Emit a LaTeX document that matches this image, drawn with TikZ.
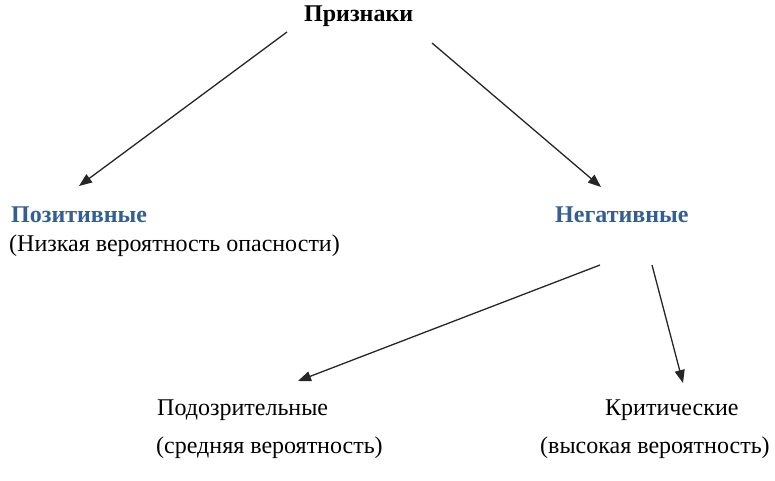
\documentclass[tikz,border=0pt]{standalone}
\usepackage{fontspec}
\setmainfont{Liberation Serif}
\usetikzlibrary{arrows.meta}
\definecolor{headblue}{HTML}{365F91}
\tikzset{
  txt/.style={inner sep=0pt, anchor=base west, font=\fontsize{24}{28}\selectfont},
  head/.style={txt, font=\fontsize{24}{28}\selectfont\bfseries, text=headblue},
  arr/.style={-{Triangle[length=13pt,width=10pt]}, line width=1.3pt, black!85}
}
\begin{document}
\begin{tikzpicture}[x=1pt,y=-1pt]
\useasboundingbox (0,0) rectangle (775,481);
\node[txt, font=\fontsize{24}{28}\selectfont\bfseries] (root) at (304,22) {Признаки};
\node[head] (pos) at (11,222) {Позитивные};
\node[txt] (posd) at (9,251) {(Низкая вероятность опасности)};
\node[head] (neg) at (555,222) {Негативные};
\node[txt] (sus) at (157,415) {Подозрительные};
\node[txt] (susd) at (156,453) {(средняя вероятность)};
\node[txt] (crit) at (605,415) {Критические};
\node[txt] (critd) at (540,453) {(высокая вероятность)};
\coordinate (a1s) at (287,32); \coordinate (a1e) at (79,186);
\coordinate (a2s) at (432,43); \coordinate (a2e) at (601,187);
\coordinate (a3s) at (600,265); \coordinate (a3e) at (298,381);
\coordinate (a4s) at (652,265); \coordinate (a4e) at (683,383);
\draw[arr] (a1s) -- (a1e);
\draw[arr] (a2s) -- (a2e);
\draw[arr] (a3s) -- (a3e);
\draw[arr] (a4s) -- (a4e);
\end{tikzpicture}
\end{document}
